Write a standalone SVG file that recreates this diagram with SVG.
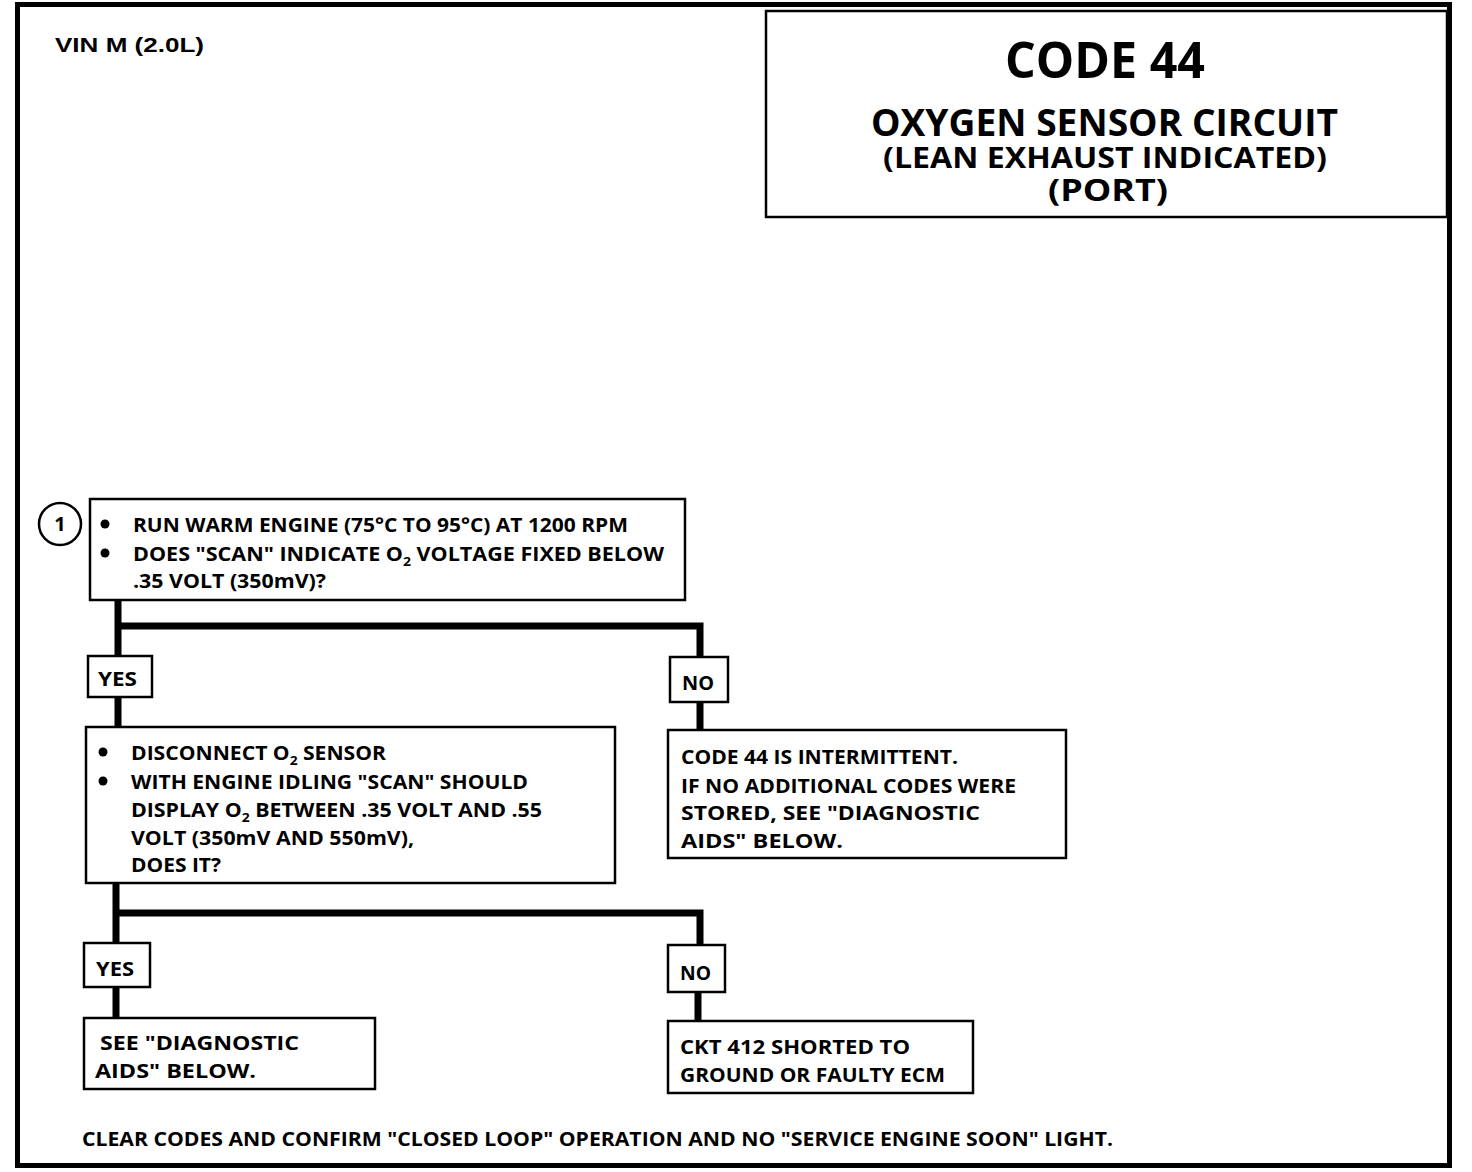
<svg xmlns="http://www.w3.org/2000/svg" width="1472" height="1172" viewBox="0 0 1472 1172">
<style>
.t{font-family:"Open Sans","Noto Sans",sans-serif;font-weight:bold;fill:#000}
.b{font-size:20px}
.box{fill:#fff;stroke:#000;stroke-width:2.5}
.lbl{fill:#fff;stroke:#000;stroke-width:2.5}
.c{fill:none;stroke:#000;stroke-width:7;stroke-linecap:butt;stroke-linejoin:miter}
.sub{font-size:13px}
</style>
<rect x="0" y="0" width="1472" height="1172" fill="#fff"/>
<rect x="17.5" y="4.5" width="1432" height="1161" fill="none" stroke="#000" stroke-width="5"/>
<g id="header">
<text class="t" x="55" y="52" style="font-family:'Liberation Sans',Arial,sans-serif" font-size="20" textLength="149" lengthAdjust="spacingAndGlyphs">VIN M (2.0L)</text>
</g>
<g id="title">
<rect class="box" x="766" y="11" width="681" height="206"/>
<text class="t" x="1105" y="78" font-size="50" text-anchor="middle" textLength="200" lengthAdjust="spacingAndGlyphs">CODE 44</text>
<text class="t" x="1104.5" y="136" font-size="38" text-anchor="middle" textLength="467" lengthAdjust="spacingAndGlyphs">OXYGEN SENSOR CIRCUIT</text>
<text class="t" x="1105" y="168" font-size="28" text-anchor="middle" textLength="444" lengthAdjust="spacingAndGlyphs">(LEAN EXHAUST INDICATED)</text>
<text class="t" x="1108" y="201" font-size="30" text-anchor="middle" textLength="120" lengthAdjust="spacingAndGlyphs">(PORT)</text>
</g>
<g id="connectors">
<path class="c" d="M118,600 V656 M118,626 H700 V657"/>
<path class="c" d="M118,697 V727"/>
<path class="c" d="M700,702 V730"/>
<path class="c" d="M116,883 V943 M116,913 H700 V945"/>
<path class="c" d="M116,987 V1018"/>
<path class="c" d="M698,992 V1021"/>
</g>
<g id="step1">
<circle cx="60" cy="524" r="21" fill="#fff" stroke="#000" stroke-width="2.5"/>
<text class="t" x="60" y="531" font-size="20" text-anchor="middle">1</text>
</g>
<g id="box1">
<rect class="box" x="90" y="499" width="595" height="101"/>
<circle cx="105" cy="524" r="4.5"/>
<circle cx="105" cy="553" r="4.5"/>
<text class="t b" x="133" y="532" textLength="495" lengthAdjust="spacingAndGlyphs">RUN WARM ENGINE (75°C TO 95°C) AT 1200 RPM</text>
<text class="t b" x="133" y="561" textLength="531" lengthAdjust="spacingAndGlyphs">DOES "SCAN" INDICATE O<tspan class="sub" dy="5">2</tspan><tspan dy="-5"> VOLTAGE FIXED BELOW</tspan></text>
<text class="t b" x="133" y="588" textLength="193" lengthAdjust="spacingAndGlyphs">.35 VOLT (350mV)?</text>
</g>
<g id="yes1">
<rect class="lbl" x="88" y="656" width="64" height="41"/>
<text class="t b" x="98" y="686" textLength="39" lengthAdjust="spacingAndGlyphs">YES</text>
</g>
<g id="no1">
<rect class="lbl" x="670" y="657" width="58" height="45"/>
<text class="t b" x="682" y="690" textLength="32" lengthAdjust="spacingAndGlyphs">NO</text>
</g>
<g id="box2">
<rect class="box" x="86" y="727" width="529" height="156"/>
<circle cx="103" cy="752" r="4.5"/>
<circle cx="103" cy="781" r="4.5"/>
<text class="t b" x="131" y="760" textLength="255" lengthAdjust="spacingAndGlyphs">DISCONNECT O<tspan class="sub" dy="5">2</tspan><tspan dy="-5"> SENSOR</tspan></text>
<text class="t b" x="131" y="789" textLength="397" lengthAdjust="spacingAndGlyphs">WITH ENGINE IDLING "SCAN" SHOULD</text>
<text class="t b" x="131" y="817" textLength="411" lengthAdjust="spacingAndGlyphs">DISPLAY O<tspan class="sub" dy="5">2</tspan><tspan dy="-5"> BETWEEN .35 VOLT AND .55</tspan></text>
<text class="t b" x="131" y="845" textLength="283" lengthAdjust="spacingAndGlyphs">VOLT (350mV AND 550mV),</text>
<text class="t b" x="131" y="872" textLength="90" lengthAdjust="spacingAndGlyphs">DOES IT?</text>
</g>
<g id="box3">
<rect class="box" x="668" y="730" width="398" height="128"/>
<text class="t b" x="681" y="764" textLength="277" lengthAdjust="spacingAndGlyphs">CODE 44 IS INTERMITTENT.</text>
<text class="t b" x="681" y="793" textLength="335" lengthAdjust="spacingAndGlyphs">IF NO ADDITIONAL CODES WERE</text>
<text class="t b" x="681" y="820" textLength="299" lengthAdjust="spacingAndGlyphs">STORED,  SEE "DIAGNOSTIC</text>
<text class="t b" x="681" y="848" textLength="162" lengthAdjust="spacingAndGlyphs">AIDS" BELOW.</text>
</g>
<g id="yes2">
<rect class="lbl" x="84" y="943" width="66" height="44"/>
<text class="t b" x="96" y="976" textLength="38" lengthAdjust="spacingAndGlyphs">YES</text>
</g>
<g id="no2">
<rect class="lbl" x="668" y="945" width="57" height="47"/>
<text class="t b" x="680" y="980" textLength="31" lengthAdjust="spacingAndGlyphs">NO</text>
</g>
<g id="box4">
<rect class="box" x="84" y="1018" width="291" height="71"/>
<text class="t b" x="100" y="1050" textLength="199" lengthAdjust="spacingAndGlyphs">SEE  "DIAGNOSTIC</text>
<text class="t b" x="95" y="1078" textLength="161" lengthAdjust="spacingAndGlyphs">AIDS" BELOW.</text>
</g>
<g id="box5">
<rect class="box" x="668" y="1021" width="305" height="72"/>
<text class="t b" x="680" y="1054" textLength="230" lengthAdjust="spacingAndGlyphs">CKT 412  SHORTED TO</text>
<text class="t b" x="680" y="1082" textLength="265" lengthAdjust="spacingAndGlyphs">GROUND OR FAULTY ECM</text>
</g>
<g id="footer">
<text class="t" x="82" y="1146" font-size="19" textLength="1031" lengthAdjust="spacingAndGlyphs">CLEAR CODES AND CONFIRM "CLOSED LOOP" OPERATION AND NO "SERVICE ENGINE SOON" LIGHT.</text>
</g>
</svg>
